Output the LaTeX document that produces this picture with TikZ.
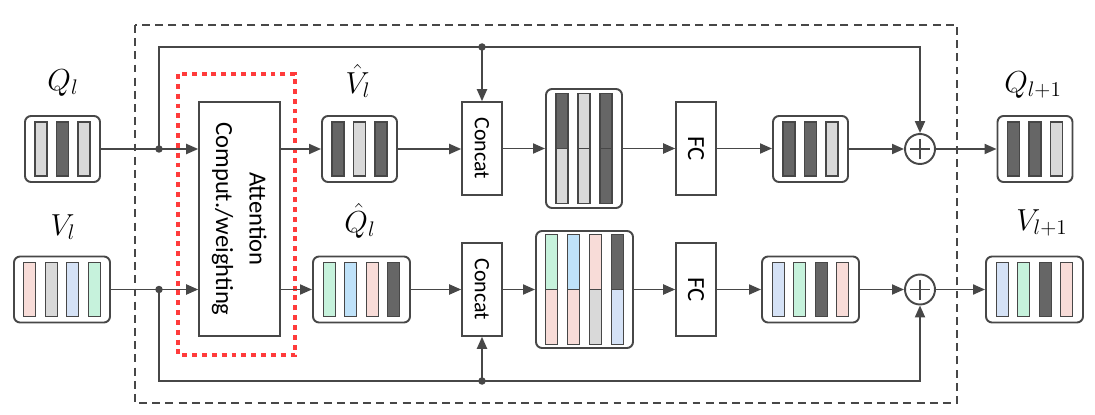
\documentclass[tikz,border=0pt]{standalone}
\usepackage{fontspec}
\setmainfont{Carlito}
\usetikzlibrary{arrows.meta,calc}

\definecolor{gris}{HTML}{474747}
\definecolor{oscuro}{HTML}{666666}
\definecolor{claro}{HTML}{D9D9D9}
\definecolor{rosa}{HTML}{F8DCD8}
\definecolor{verde}{HTML}{C6F2DC}
\definecolor{celeste}{HTML}{BFE2F9}
\definecolor{azul}{HTML}{D5E2F6}
\definecolor{rojo}{HTML}{FF3B3B}

\tikzset{
  linea/.style={draw=gris, line width=1.1pt},
  flecha/.style={linea, -{Triangle[length=0.24cm,width=0.2cm]}},
  caja/.style={draw=gris, line width=1.1pt, rounded corners=0.12cm, fill=white, inner sep=0pt},
  barra/.style={draw=gris, line width=0.8pt},
  bloque/.style={draw=gris, line width=0.9pt, fill=white, inner sep=0pt, font=\fontsize{12.5}{14}\selectfont},
  punto/.style={circle, fill=gris, inner sep=0pt, minimum size=0.15cm},
  suma/.style={circle, draw=gris, line width=1.1pt, minimum size=0.6cm, inner sep=0pt},
  etiqueta/.style={font=\LARGE, inner sep=0pt},
}

% caja con barras: nombre, centro, ancho, n, colores
\newcommand{\vecbox}[5]{%
  \node[caja, minimum width=#3, minimum height=1.32cm] (#1) at (#2) {};
  \foreach \c [count=\i] in {#5}
    \draw[barra, fill=\c] ($(#1.center)+({(\i-(#4+1)/2)*21.5-6},-27)$) rectangle +(12,54);
}
% caja con barras partidas: nombre, centro, ancho, alto, n, arriba/abajo
\newcommand{\vecpar}[6]{%
  \node[caja, minimum width=#3, minimum height=#4] (#1) at (#2) {};
  \foreach \a/\b [count=\i] in {#6} {
    \draw[barra, fill=\a] ($(#1.center)+({(\i-(#5+1)/2)*22-6},-55)$) rectangle +(12,55);
    \draw[barra, fill=\b] ($(#1.center)+({(\i-(#5+1)/2)*22-6},0)$) rectangle +(12,55);
  }
}

\begin{document}
\begin{tikzpicture}[x=0.02cm, y=-0.02cm]
  \useasboundingbox (0,0) rectangle (1095,415);

  % Marco exterior discontinuo
  \draw[gris, line width=0.9pt, dash pattern=on 4.5pt off 3pt] (135,25) rectangle (957,403);

  % Entradas
  \node[etiqueta] (lql) at (63,83) {$Q_l$};
  \vecbox{ql}{62.5,149}{1.5cm}{3}{claro,oscuro,claro}
  \node[etiqueta] (lvl) at (63,227) {$V_l$};
  \vecbox{vl}{62,289.5}{1.92cm}{4}{rosa,claro,azul,verde}

  % Bloque de atencion
  \node[bloque, minimum width=1.62cm, minimum height=4.68cm, font=\fontsize{14}{19}\selectfont] (att) at (239.5,219)
    {\rotatebox{-90}{\begin{tabular}{c}Attention\\Comput./weighting\end{tabular}}};
  \draw[rojo, line width=2.8pt, dash pattern=on 2.8pt off 2.8pt] (178,74) rectangle (295,355);

  % Salidas de la atencion
  \node[etiqueta] (lvh) at (358,81) {$\hat{V}_l$};
  \vecbox{vh}{359.5,149}{1.5cm}{3}{oscuro,claro,oscuro}
  \node[etiqueta] (lqh) at (360,221) {$\hat{Q}_l$};
  \vecbox{qh}{361.5,289.5}{1.94cm}{4}{verde,celeste,rosa,oscuro}

  % Concat
  \node[bloque, minimum width=0.8cm, minimum height=1.86cm] (c1) at (482,148.5) {\rotatebox{-90}{Concat}};
  \node[bloque, minimum width=0.8cm, minimum height=1.86cm] (c2) at (482,289.5) {\rotatebox{-90}{Concat}};
  \vecpar{k1}{584,148.5}{1.52cm}{2.38cm}{3}{oscuro/claro,claro/claro,oscuro/oscuro}
  \vecpar{k2}{584.5,289.5}{1.94cm}{2.34cm}{4}{verde/rosa,celeste/rosa,rosa/claro,oscuro/azul}

  % FC
  \node[bloque, minimum width=0.8cm, minimum height=1.86cm, font=\fontsize{14}{16}\selectfont] (f1) at (696,148.5) {\rotatebox{-90}{FC}};
  \node[bloque, minimum width=0.8cm, minimum height=1.86cm, font=\fontsize{14}{16}\selectfont] (f2) at (696,289.5) {\rotatebox{-90}{FC}};
  \vecbox{o1}{810.5,149}{1.5cm}{3}{oscuro,oscuro,claro}
  \vecbox{o2}{810.5,289.5}{1.94cm}{4}{azul,verde,oscuro,rosa}

  % Sumas y resultados
  \node[suma] (p1) at (920,149) {};
  \node[suma] (p2) at (920,289.5) {};
  \foreach \p in {p1,p2} {
    \draw[linea] ($(\p)+(-10,0)$) -- ($(\p)+(10,0)$);
    \draw[linea] ($(\p)+(0,-10)$) -- ($(\p)+(0,10)$);
  }
  \node[etiqueta] (lq1) at (1033,85) {$Q_{l+1}$};
  \vecbox{q1}{1035,149}{1.5cm}{3}{oscuro,oscuro,claro}
  \node[etiqueta] (lv1) at (1042,223) {$V_{l+1}$};
  \vecbox{v1}{1034.5,289.5}{1.94cm}{4}{azul,verde,oscuro,rosa}

  % Conexiones
  \draw[flecha] (ql.east) -- (ql.east -| att.west);
  \draw[flecha] (vl.east) -- (vl.east -| att.west);
  \draw[flecha] (att.east |- vh.west) -- (vh.west);
  \draw[flecha] (att.east |- qh.west) -- (qh.west);
  \draw[flecha] (vh.east) -- (vh.east -| c1.west);
  \draw[flecha] (qh.east) -- (qh.east -| c2.west);
  \draw[flecha] (c1.east) -- (k1.west);
  \draw[flecha] (c2.east) -- (k2.west);
  \draw[flecha] (k1.east) -- (f1.west);
  \draw[flecha] (k2.east) -- (f2.west);
  \draw[flecha] (f1.east) -- (f1.east -| o1.west);
  \draw[flecha] (f2.east) -- (f2.east -| o2.west);
  \draw[flecha] (o1.east) -- (o1.east -| p1.west);
  \draw[flecha] (o2.east) -- (o2.east -| p2.west);
  \draw[flecha] (p1.east) -- (p1.east -| q1.west);
  \draw[flecha] (p2.east) -- (p2.east -| v1.west);

  % Conexiones residuales
  \node[punto] (d1) at (159,149) {};
  \node[punto] (d2) at (482,47) {};
  \node[punto] (d3) at (159,289.5) {};
  \node[punto] (d4) at (482,381) {};
  \draw[linea] (d1.center) |- (d2.center);
  \draw[flecha] (d2.center) -| (p1.north);
  \draw[flecha] (d2.center) -- (c1.north);
  \draw[linea] (d3.center) |- (d4.center);
  \draw[flecha] (d4.center) -| (p2.south);
  \draw[flecha] (d4.center) -- (c2.south);
\end{tikzpicture}
\end{document}
